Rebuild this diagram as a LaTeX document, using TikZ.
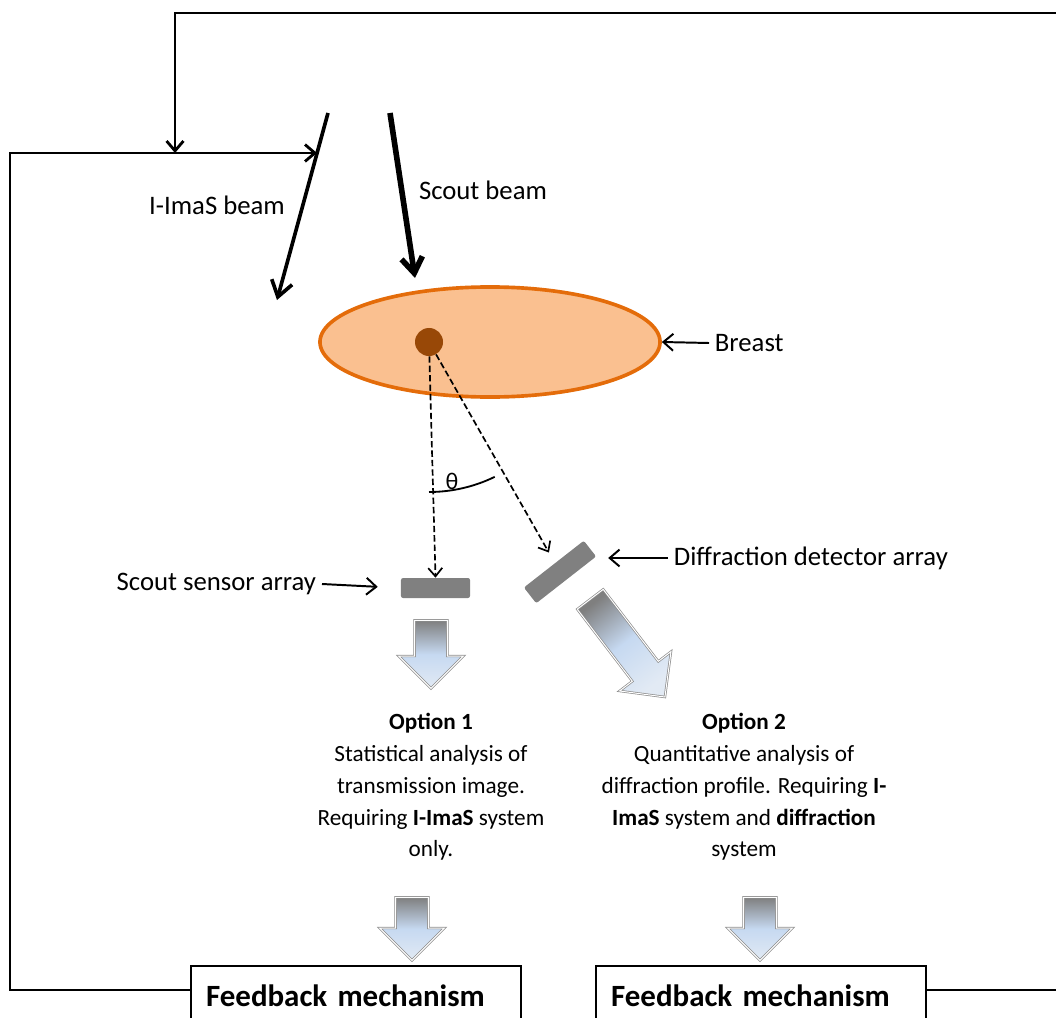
\documentclass[tikz,border=0pt]{standalone}
\usepackage{fontspec}
\setmainfont{Carlito}
\usepackage{tikz}
\usetikzlibrary{shapes.geometric, shapes.arrows, arrows.meta, positioning, calc}
\definecolor{breastfill}{HTML}{FAC090}
\definecolor{breastline}{HTML}{E46C0A}
\definecolor{lesion}{HTML}{984807}
\definecolor{sensorgray}{HTML}{808080}
\definecolor{arrowtop}{HTML}{7F7F7F}
\definecolor{arrowmid}{HTML}{C6D9F1}
\definecolor{arrowbot}{HTML}{E2EAF4}

\begin{document}
\begin{tikzpicture}[x=0.025cm, y=-0.025cm,
    lbl/.style={font=\fontsize{19}{23}\selectfont, inner sep=4pt},
    opt/.style={font=\fontsize{16.5}{22.6}\selectfont, align=center},
    frame/.style={line width=2pt},
    ptr/.style={line width=1.4pt, -{Straight Barb[length=7pt, width=12pt]}},
    beam/.style={line width=#1, -{Straight Barb[length=11pt, width=15pt]}},
    ray/.style={line width=1.2pt, dash pattern=on 4.5pt off 2.2pt, -{Straight Barb[length=6pt, width=10pt]}},
    bar/.style={fill=sensorgray, rounded corners=1.5pt, minimum width=#1, minimum height=0.5cm, inner sep=0pt},
    fat/.style={single arrow, draw=black!45, double=white, double distance=0.7pt, line width=0.5pt,
        top color=arrowtop, bottom color=arrowbot, middle color=arrowmid,
        inner xsep=0pt, inner ysep=0.4cm, single arrow head extend=0.4cm, single arrow head indent=0pt,
        minimum height=#1, anchor=tail},
    fbbox/.style={draw, line width=1.6pt, anchor=north west, text width=7.5cm, inner xsep=0.375cm, inner ysep=0pt,
        text height=1cm, text depth=1.5cm, align=left, font=\fontsize{22}{26}\selectfont\bfseries},
]
\useasboundingbox (0,0) rectangle (1056,1017);

% breast with lesion
\node[ellipse, draw=breastline, fill=breastfill, line width=2.6pt, minimum width=8.5cm, minimum height=2.75cm] (breast) at (490,342) {};
\node[circle, fill=lesion, minimum size=0.7cm, inner sep=0pt] (lesion) at (429,342) {};

% beams
\coordinate (ibeam0) at (328,113);
\coordinate (ibeam1) at (277,300);
\coordinate (sbeam0) at (390,113);
\coordinate (sbeam1) at (415,278);
\coordinate (ihit) at (317,153);
\coordinate (merge) at (175,153);
\draw[beam=2.6pt] (ibeam0) -- (ibeam1);
\draw[beam=4pt] (sbeam0) -- (sbeam1);
\node[lbl] (ilbl) at (217,205) {I-ImaS beam};
\node[lbl] (slbl) at (483,190) {Scout beam};

% detectors
\node[bar=1.725cm] (sensor) at (435.5,588) {};
\node[bar=1.9cm, rotate=38] (detector) at (560,572) {};

% scattered rays
\draw[ray] (lesion) -- (sensor.north);
\draw[ray, shorten >=0.3cm] (lesion) -- (detector);
\draw[line width=1.3pt] ([shift={(90:150)}]lesion.center) arc[start angle=90, end angle=64, radius=150];
\node[font=\fontsize{17}{19}\selectfont] (theta) at (452,481) {θ};

% labels
\node[lbl, anchor=west] (blbl) at (709,343) {Breast};
\draw[ptr] (blbl.west) -- (breast.east);
\node[lbl, anchor=east] (sslbl) at (322,584) {Scout sensor array};
\draw[ptr, shorten >=0.575cm] (sslbl.east) -- (sensor.west);
\node[lbl, anchor=west] (ddlbl) at (668,558) {Diffraction detector array};
\draw[ptr, shorten >=0.45cm] (ddlbl.west) -- (ddlbl.west -| detector.east);

% block arrows
\node[fat=1.7cm, rotate=-90] (down1) at (431,620) {};
\node[fat=3.075cm, rotate=-52.6, shading angle=37.4] (diag) at (590,599) {};

% options
\node[opt] (opt1) at (431,787) {\textbf{Option 1}\\Statistical analysis of\\transmission image.\\Requiring \textbf{I-ImaS} system\\only.};
\node[opt] (opt2) at (744,787) {\textbf{Option 2}\\Quantitative analysis of\\diffraction profile. Requiring \textbf{I-}\\\textbf{ImaS} system and \textbf{diffraction}\\system};

\node[fat=1.575cm, rotate=-90] (down2) at (412,897) {};
\node[fat=1.575cm, rotate=-90] (down3) at (760,897) {};

% feedback
\node[fbbox] (fb1) at (190,965) {Feedback mechanism};
\node[fbbox] (fb2) at (595,965) {Feedback mechanism};
\draw[frame, -{Straight Barb[length=7pt, width=12pt]}] ($(fb1.north west)+(0,25)$) -| (10,153) -- (ihit);
\draw[frame, -{Straight Barb[length=7pt, width=12pt]}] ($(fb2.north east)+(0,25)$) -| (1066,13) -| (merge);
\end{tikzpicture}
\end{document}
